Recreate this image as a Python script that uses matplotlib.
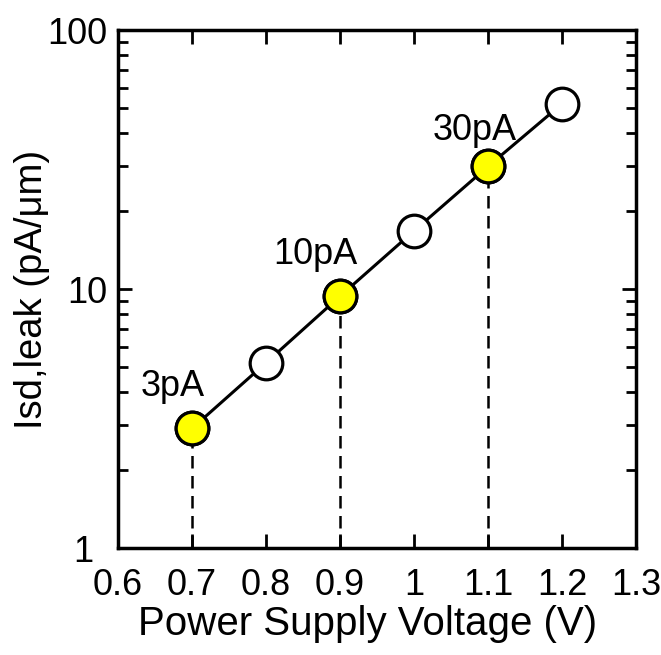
import numpy as np
import matplotlib.pyplot as plt
import matplotlib.transforms as mtransforms
from matplotlib.ticker import FixedLocator, NullLocator, LogLocator, NullFormatter

plt.rcParams['font.family'] = ['Liberation Sans', 'DejaVu Sans']

# Data
voltage = [0.7, 0.8, 0.9, 1.0, 1.1, 1.2]
leak = [2.9, 5.2, 9.4, 16.8, 29.8, 52.0]
highlight_v = [0.7, 0.9, 1.1]
highlight_leak = [2.9, 9.4, 29.8]
highlight_labels = ["3pA", "10pA", "30pA"]
x_ticks = [0.6, 0.7, 0.8, 0.9, 1.0, 1.1, 1.2, 1.3]
x_ticklabels = ["0.6", "0.7", "0.8", "0.9", "1", "1.1", "1.2", "1.3"]

# label offsets (points) from the highlighted markers
label_offsets = [(-14, 30), (-18, 30), (-10, 26)]

fig = plt.figure(figsize=(6.61, 6.55), dpi=100)
ax = fig.add_axes([0.1785, 0.163, 0.784, 0.791])

ax.set_yscale("log")
ax.set_xlim(0.6, 1.3)
ax.set_ylim(1, 100)

# dashed drops to the x axis
for v, l in zip(highlight_v, highlight_leak):
    ax.plot([v, v], [1, l], color="black", linestyle=(0, (5, 3)), linewidth=1.8, zorder=1)

ax.plot(voltage, leak, "-", color="black", linewidth=2.2, zorder=2)
ax.plot(voltage, leak, "o", markersize=23.5, markerfacecolor="white",
        markeredgecolor="black", markeredgewidth=2.3, zorder=3)
ax.plot(highlight_v, highlight_leak, "o", markersize=23.5, markerfacecolor="#ffff00",
        markeredgecolor="black", markeredgewidth=2.3, zorder=4)

for v, l, txt, off in zip(highlight_v, highlight_leak, highlight_labels, label_offsets):
    ax.annotate(txt, (v, l), xytext=off, textcoords="offset points",
                ha="center", va="center", fontsize=26)

ax.xaxis.set_major_locator(FixedLocator(x_ticks))
ax.set_xticklabels(x_ticklabels)
ax.xaxis.set_minor_locator(NullLocator())
ax.set_yticks([1, 10, 100])
ax.set_yticklabels(["1", "10", "100"])
ax.yaxis.set_minor_locator(LogLocator(base=10, subs=np.arange(2, 10), numticks=20))
ax.yaxis.set_minor_formatter(NullFormatter())

ax.tick_params(which="both", direction="in", top=True, right=True, width=2, labelsize=26)
ax.tick_params(which="major", length=10)
ax.tick_params(which="minor", length=7)
ax.tick_params(axis="x", which="major", pad=14)
ax.tick_params(axis="y", which="major", pad=8)
for s in ax.spines.values():
    s.set_linewidth(2.5)

# the "1" label sits a little further left in the reference
lab1 = ax.get_yticklabels()[0]
lab1.set_transform(lab1.get_transform() +
                   mtransforms.ScaledTranslation(-10 / 72, 0, fig.dpi_scale_trans))

ax.set_xlabel("Power Supply Voltage (V)", fontsize=29, labelpad=2)
ax.xaxis.label.set_x(0.482)
ax.set_ylabel("Isd,leak (pA/μm)", fontsize=27.5, labelpad=-2)

fig.savefig("out.png", dpi=100)
